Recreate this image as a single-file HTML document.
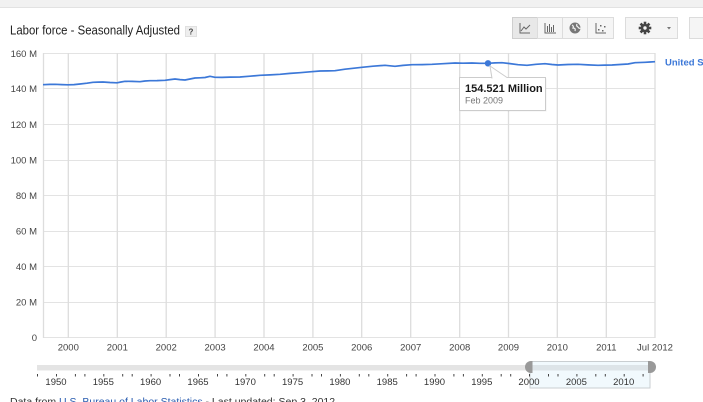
<!DOCTYPE html>
<html>
<head>
<meta charset="utf-8">
<style>
html,body{margin:0;padding:0;background:#fff;}
body{width:703px;height:402px;overflow:hidden;position:relative;font-family:"Liberation Sans",Arial,sans-serif;}
svg{position:absolute;left:0;top:0;}
</style>
</head>
<body>
<svg width="703" height="402" viewBox="0 0 703 402" xmlns="http://www.w3.org/2000/svg" font-family="Liberation Sans, Arial, sans-serif">
  <!-- top bar -->
  <rect x="0" y="0" width="703" height="7" fill="#f1f1f1"/>
  <line x1="0" y1="7.5" x2="703" y2="7.5" stroke="#e2e2e2" stroke-width="1"/>

  <!-- title -->
  <text x="10" y="34.5" font-size="12.5" fill="#222" textLength="170" lengthAdjust="spacingAndGlyphs">Labor force - Seasonally Adjusted</text>
  <rect x="185.5" y="26.5" width="11" height="10" fill="#eeeeee" stroke="#e0e0e0"/>
  <text x="191" y="34.5" font-size="8" font-weight="bold" fill="#444" text-anchor="middle">?</text>

  <!-- toolbar buttons -->
  <g stroke="#dcdcdc" stroke-width="1">
    <rect x="512.5" y="17.5" width="25" height="21" fill="#e8e8e8" stroke="#cfcfcf"/>
    <rect x="537.5" y="17.5" width="25" height="21" fill="#f5f5f5"/>
    <rect x="562.5" y="17.5" width="25" height="21" fill="#f5f5f5"/>
    <rect x="587.5" y="17.5" width="26" height="21" fill="#f5f5f5"/>
    <rect x="625.5" y="17.5" width="52" height="21" fill="#f5f5f5"/>
    <rect x="689.5" y="17.5" width="20" height="21" fill="#f5f5f5"/>
  </g>
  <g stroke="#666" stroke-width="1" fill="none">
    <polyline points="520,23 520,33 530,33"/>
    <polyline points="521,31 524,27 526,29 530,25"/>
    <polyline points="545,23 545,33 556,33"/>
    <line x1="547.5" y1="26" x2="547.5" y2="32"/>
    <line x1="549.5" y1="24" x2="549.5" y2="32"/>
    <line x1="551.5" y1="27" x2="551.5" y2="32"/>
    <line x1="553.5" y1="25" x2="553.5" y2="32"/>
    <polyline points="596,23 596,33 606,33"/>
  </g>
  <circle cx="575" cy="28" r="5.5" fill="#777"/>
  <path d="M572,25 q2,1 1,3 q3,0 2,3 M577,24 q-1,2 1,3 q1,2 3,1" stroke="#f5f5f5" stroke-width="1.2" fill="none"/>
  <g fill="#666">
    <rect x="598" y="29" width="1.5" height="1.5"/>
    <rect x="600" y="25" width="1.5" height="1.5"/>
    <rect x="602" y="30" width="1.5" height="1.5"/>
    <rect x="604" y="26" width="1.5" height="1.5"/>
  </g>
  <g transform="translate(645,28)">
    <circle r="4.3" fill="#444"/>
    <g fill="#444">
      <rect x="-1.3" y="-6.3" width="2.6" height="12.6"/>
      <rect x="-6.3" y="-1.3" width="12.6" height="2.6"/>
      <rect x="-1.3" y="-6.3" width="2.6" height="12.6" transform="rotate(45)"/>
      <rect x="-1.3" y="-6.3" width="2.6" height="12.6" transform="rotate(-45)"/>
    </g>
    <circle r="1.7" fill="#f5f5f5"/>
  </g>
  <polygon points="667,27 671,27 669,29.5" fill="#777"/>

  <!-- gridlines horizontal -->
  <g stroke="#e3e3e3" stroke-width="1">
    <line x1="43" y1="53.5" x2="655" y2="53.5"/>
    <line x1="43" y1="88.5" x2="655" y2="88.5"/>
    <line x1="43" y1="124.5" x2="655" y2="124.5"/>
    <line x1="43" y1="160.5" x2="655" y2="160.5"/>
    <line x1="43" y1="195.5" x2="655" y2="195.5"/>
    <line x1="43" y1="231.5" x2="655" y2="231.5"/>
    <line x1="43" y1="266.5" x2="655" y2="266.5"/>
    <line x1="43" y1="302.5" x2="655" y2="302.5"/>
    <line x1="43" y1="337.5" x2="655" y2="337.5"/>
  </g>
  <g stroke="#dddddd" stroke-width="1.3">
    <line x1="43.5" y1="53" x2="43.5" y2="338"/>
    <line x1="68.3" y1="53" x2="68.3" y2="338"/>
    <line x1="117.3" y1="53" x2="117.3" y2="338"/>
    <line x1="166.2" y1="53" x2="166.2" y2="338"/>
    <line x1="215.1" y1="53" x2="215.1" y2="338"/>
    <line x1="264" y1="53" x2="264" y2="338"/>
    <line x1="312.9" y1="53" x2="312.9" y2="338"/>
    <line x1="361.7" y1="53" x2="361.7" y2="338"/>
    <line x1="410.7" y1="53" x2="410.7" y2="338"/>
    <line x1="459.7" y1="53" x2="459.7" y2="338"/>
    <line x1="508.5" y1="53" x2="508.5" y2="338"/>
    <line x1="557.3" y1="53" x2="557.3" y2="338"/>
    <line x1="606.3" y1="53" x2="606.3" y2="338"/>
    <line x1="655" y1="53" x2="655" y2="338"/>
  </g>

  <!-- y labels -->
  <g font-size="9.5" fill="#444" text-anchor="end">
    <text x="37" y="57">160 M</text>
    <text x="37" y="92">140 M</text>
    <text x="37" y="128">120 M</text>
    <text x="37" y="163.5">100 M</text>
    <text x="37" y="199">80 M</text>
    <text x="37" y="234.5">60 M</text>
    <text x="37" y="270">40 M</text>
    <text x="37" y="305.5">20 M</text>
    <text x="37" y="341">0</text>
  </g>

  <!-- x labels -->
  <g font-size="9.5" fill="#444" text-anchor="middle">
    <text x="68.3" y="350.5">2000</text>
    <text x="117.3" y="350.5">2001</text>
    <text x="166.2" y="350.5">2002</text>
    <text x="215.1" y="350.5">2003</text>
    <text x="264" y="350.5">2004</text>
    <text x="312.9" y="350.5">2005</text>
    <text x="361.7" y="350.5">2006</text>
    <text x="410.7" y="350.5">2007</text>
    <text x="459.7" y="350.5">2008</text>
    <text x="508.5" y="350.5">2009</text>
    <text x="557.3" y="350.5">2010</text>
    <text x="606.3" y="350.5">2011</text>
    <text x="655" y="350.5">Jul 2012</text>
  </g>

  <!-- series line -->
  <polyline fill="none" stroke="#3c78d8" stroke-width="1.7" stroke-linejoin="round"
    points="43,84.7 50,84.4 55,84.3 62,84.6 68,84.8 74,84.6 80,84 87,83.2 93,82.3 98,82.1 103,82 110,82.5 117,82.8 121,82 125,81.3 132,81.4 140,81.7 145,81 150,80.7 157,80.6 165,80.3 170,79.6 175,79 180,79.6 185,80 190,79 195,78 200,77.8 205,77.5 210,76.3 215,77.3 222,77.4 230,77.1 240,77 250,76.2 260,75.3 270,74.9 280,74.3 290,73.4 300,72.7 310,71.8 320,71 328,70.9 335,70.7 345,69.2 353,68.3 362,67.3 373,66.2 385,65.3 395,66.3 403,65.4 412,64.7 422,64.6 432,64.3 443,63.7 455,63 463,63.2 472,63 480,63.3 488,63.3 495,62.9 502,62.7 510,63.6 518,64.7 527,65.3 536,64.3 545,63.7 552,64.5 558,65 568,64.5 578,64.3 588,64.9 598,65.3 605,65.1 612,65 620,64.5 628,64 635,62.7 645,62.3 650,62 655,61.7"/>
  <circle cx="488" cy="63.3" r="3.2" fill="#3c78d8"/>

  <!-- legend -->
  <text x="665" y="65.5" font-size="9.5" font-weight="bold" fill="#3c78d8">United States</text>

  <!-- tooltip -->
  <rect x="460.5" y="78.5" width="86" height="33" fill="#000" opacity="0.06"/>
  <rect x="459.5" y="77.5" width="86" height="33" fill="#fff" stroke="#cccccc"/>
  <polygon points="490,66 492,78 507,78" fill="#fff"/>
  <polyline points="492,78.5 490,66 507,77.5" fill="none" stroke="#cccccc"/>
  <text x="465" y="92" font-size="11" font-weight="bold" fill="#1a1a1a">154.521 Million</text>
  <text x="465" y="103.5" font-size="9" fill="#777">Feb 2009</text>

  <!-- scroller -->
  <rect x="37" y="365" width="490" height="5.5" fill="#e4e4e4"/>
  <rect x="530" y="361.5" width="120" height="26.5" fill="#f1f9fd" stroke="#c9ced1"/>
  <rect x="530" y="365" width="120" height="5.5" fill="#dde4e8"/>
  <path d="M531,361 a6,6 0 0 0 0,12 z" fill="#999"/>
  <rect x="531" y="361" width="1.5" height="12" fill="#999"/>
  <path d="M650,361 a6,6 0 0 1 0,12 z" fill="#999"/>
  <rect x="648" y="361" width="2" height="12" fill="#999"/>

  <g fill="#444">
    <rect x="37" y="374" width="1" height="2.5"/>
    <rect x="56" y="374" width="1" height="2.5"/>
    <rect x="74.9" y="374" width="1" height="2.5"/>
    <rect x="84.4" y="374" width="1" height="2.5"/>
    <rect x="103.3" y="374" width="1" height="2.5"/>
    <rect x="122.2" y="374" width="1" height="2.5"/>
    <rect x="131.7" y="374" width="1" height="2.5"/>
    <rect x="150.6" y="374" width="1" height="2.5"/>
    <rect x="169.5" y="374" width="1" height="2.5"/>
    <rect x="179" y="374" width="1" height="2.5"/>
    <rect x="198" y="374" width="1" height="2.5"/>
    <rect x="217" y="374" width="1" height="2.5"/>
    <rect x="226.4" y="374" width="1" height="2.5"/>
    <rect x="245.3" y="374" width="1" height="2.5"/>
    <rect x="264.2" y="374" width="1" height="2.5"/>
    <rect x="273.7" y="374" width="1" height="2.5"/>
    <rect x="292.6" y="374" width="1" height="2.5"/>
    <rect x="311.5" y="374" width="1" height="2.5"/>
    <rect x="321" y="374" width="1" height="2.5"/>
    <rect x="339.9" y="374" width="1" height="2.5"/>
    <rect x="358.8" y="374" width="1" height="2.5"/>
    <rect x="368.3" y="374" width="1" height="2.5"/>
    <rect x="387.2" y="374" width="1" height="2.5"/>
    <rect x="406.1" y="374" width="1" height="2.5"/>
    <rect x="415.6" y="374" width="1" height="2.5"/>
    <rect x="434.5" y="374" width="1" height="2.5"/>
    <rect x="453.4" y="374" width="1" height="2.5"/>
    <rect x="462.9" y="374" width="1" height="2.5"/>
    <rect x="481.8" y="374" width="1" height="2.5"/>
    <rect x="500.7" y="374" width="1" height="2.5"/>
    <rect x="510.2" y="374" width="1" height="2.5"/>
    <rect x="529" y="374" width="1" height="2.5"/>
    <rect x="548" y="374" width="1" height="2.5"/>
    <rect x="557.5" y="374" width="1" height="2.5"/>
    <rect x="576.4" y="374" width="1" height="2.5"/>
    <rect x="595.3" y="374" width="1" height="2.5"/>
    <rect x="604.8" y="374" width="1" height="2.5"/>
    <rect x="623.7" y="374" width="1" height="2.5"/>
    <rect x="642.6" y="374" width="1" height="2.5"/>
  </g>
  <g font-size="9.5" fill="#333" text-anchor="middle">
    <text x="56" y="385">1950</text>
    <text x="103.3" y="385">1955</text>
    <text x="150.6" y="385">1960</text>
    <text x="198" y="385">1965</text>
    <text x="245.3" y="385">1970</text>
    <text x="292.6" y="385">1975</text>
    <text x="339.9" y="385">1980</text>
    <text x="387.2" y="385">1985</text>
    <text x="434.5" y="385">1990</text>
    <text x="481.8" y="385">1995</text>
    <text x="529" y="385">2000</text>
    <text x="576.4" y="385">2005</text>
    <text x="623.7" y="385">2010</text>
  </g>

  <!-- footer -->
  <text x="10" y="405" font-size="10.5" fill="#333">Data from <tspan fill="#2a5db0">U.S. Bureau of Labor Statistics</tspan> - Last updated: Sep 3, 2012</text>
</svg>
</body>
</html>
